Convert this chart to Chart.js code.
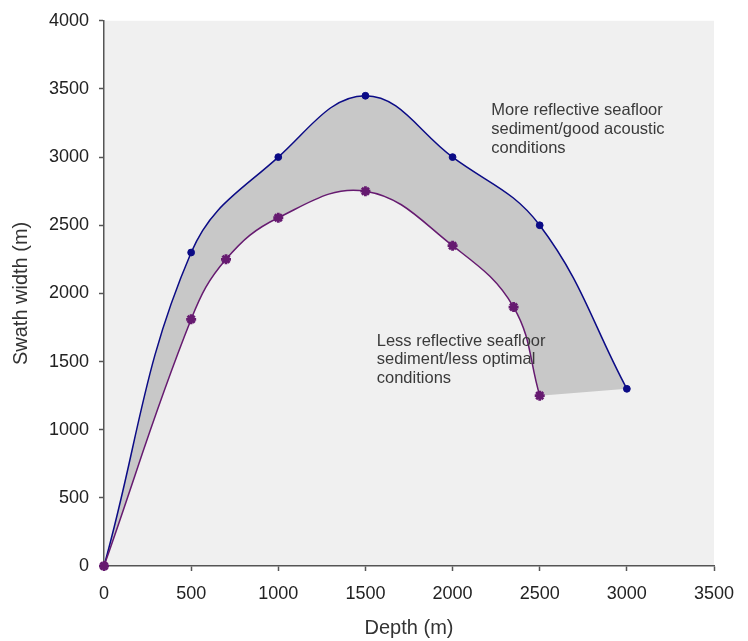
<!DOCTYPE html>
<html>
<head>
<meta charset="utf-8">
<script src="https://cdn.jsdelivr.net/npm/chart.js@4.4.1/dist/chart.umd.min.js"></script>
<style>
  html, body { margin: 0; padding: 0; background: #ffffff; }
  #wrap { width: 748px; height: 641px; }
</style>
</head>
<body>
<div id="wrap"><canvas id="c" width="748" height="641"></canvas></div>
<script>
// ---- data ----
const upperDepth = [0, 500, 1000, 1500, 2000, 2500, 3000];
const upperSwath = [0, 2300, 3000, 3450, 3000, 2500, 1300];
const lowerDepth = [0, 500, 700, 1000, 1500, 2000, 2350, 2500];
const lowerSwath = [0, 1810, 2250, 2555, 2750, 2350, 1900, 1250];
const xTicks = [0, 500, 1000, 1500, 2000, 2500, 3000, 3500];
const yTicks = [0, 500, 1000, 1500, 2000, 2500, 3000, 3500, 4000];
const upperNote = ['More reflective seafloor', 'sediment/good acoustic', 'conditions'];
const lowerNote = ['Less reflective seafloor', 'sediment/less optimal', 'conditions'];
const upperNoteAt = {x: 2222, y: 3340};
const lowerNoteAt = {x: 1565, y: 1650};

const toPts = (xs, ys) => xs.map((x, i) => ({x: x, y: ys[i]}));

const tickFont = {family: '"Liberation Sans", Arial, sans-serif', size: 18};
const titleFont = {family: '"Liberation Sans", Arial, sans-serif', size: 20};
const noteFont = '16.5px "Liberation Sans", Arial, sans-serif';

const plotBg = {
  id: 'plotBg',
  beforeDraw(chart) {
    const {ctx, chartArea: a} = chart;
    ctx.save();
    ctx.fillStyle = '#f0f0f0';
    ctx.fillRect(a.left, a.top, a.right - a.left, a.bottom - a.top);
    ctx.restore();
  }
};

// gray band between the two curves, built from the library's own line paths
const band = {
  id: 'band',
  beforeDatasetsDraw(chart) {
    const {ctx, chartArea: a} = chart;
    const up = chart.getDatasetMeta(0).dataset;
    const lo = chart.getDatasetMeta(1).dataset;
    if (!up || !lo) return;
    up.updateControlPoints(a, 'x');
    lo.updateControlPoints(a, 'x');
    ctx.save();
    ctx.beginPath();
    ctx.rect(a.left, a.top, a.right - a.left, a.bottom - a.top);
    ctx.clip();
    ctx.beginPath();
    up.pathSegment(ctx, up.segments[0], {move: true});
    lo.pathSegment(ctx, lo.segments[0], {move: false, reverse: true});
    ctx.closePath();
    ctx.fillStyle = '#c8c8c8';
    ctx.fill();
    ctx.restore();
  }
};

const notes = {
  id: 'notes',
  afterDatasetsDraw(chart) {
    const {ctx, scales: {x, y}} = chart;
    ctx.save();
    ctx.font = noteFont;
    ctx.fillStyle = '#3a3a3a';
    ctx.textAlign = 'left';
    ctx.textBaseline = 'middle';
    const draw = (lines, at) => {
      const px = x.getPixelForValue(at.x);
      const py = y.getPixelForValue(at.y);
      lines.forEach((t, i) => ctx.fillText(t, px, py + i * 18.7));
    };
    draw(upperNote, upperNoteAt);
    draw(lowerNote, lowerNoteAt);
    ctx.restore();
  }
};

const axisCommon = (ticks, min, max) => ({
  type: 'linear',
  min: min,
  max: max,
  afterBuildTicks(scale) { scale.ticks = ticks.map(v => ({value: v})); },
  grid: {drawOnChartArea: false, drawTicks: true, tickLength: 5, tickColor: '#555555', tickWidth: 1.5},
  border: {display: true, color: '#555555', width: 1.5},
  z: 1
});

const fmt = v => String(v);

const xAxis = Object.assign(axisCommon(xTicks, 0, 3500), {
  ticks: {font: tickFont, color: '#222222', padding: 12, maxRotation: 0, autoSkip: false, callback: fmt},
  title: {display: true, text: 'Depth (m)', font: titleFont, color: '#333333', padding: {top: 0, bottom: 1}},
  afterFit(scale) { scale.height = 75; }
});
const yAxis = Object.assign(axisCommon(yTicks, 0, 4000), {
  ticks: {font: tickFont, color: '#222222', padding: 10, autoSkip: false, callback: fmt},
  title: {display: true, text: 'Swath width (m)', font: titleFont, color: '#333333', padding: {top: 9.5, bottom: 0}},
  afterFit(scale) { scale.width = 104; }
});

new Chart(document.getElementById('c'), {
  type: 'line',
  data: {
    datasets: [
      {
        label: 'More reflective',
        data: toPts(upperDepth, upperSwath),
        order: 1,
        borderColor: '#0b0b86',
        borderWidth: 1.5,
        tension: 0.4,
        fill: false,
        clip: false,
        pointStyle: 'circle',
        pointRadius: 3.4,
        pointBackgroundColor: '#0b0b86',
        pointBorderColor: '#0b0b86',
        pointBorderWidth: 1
      },
      {
        label: 'Less reflective',
        data: toPts(lowerDepth, lowerSwath),
        order: 0,
        borderColor: '#661a70',
        borderWidth: 1.5,
        tension: 0.4,
        fill: false,
        clip: false,
        pointStyle: 'star',
        pointRadius: 5,
        pointBackgroundColor: '#661a70',
        pointBorderColor: '#661a70',
        pointBorderWidth: 2.8
      }
    ]
  },
  options: {
    responsive: false,
    animation: false,
    devicePixelRatio: 1,
    layout: {padding: {top: 20, right: 34, left: 0, bottom: 0}},
    plugins: {legend: {display: false}, tooltip: {enabled: false}},
    scales: {x: xAxis, y: yAxis}
  },
  plugins: [plotBg, band, notes]
});
</script>
</body>
</html>
